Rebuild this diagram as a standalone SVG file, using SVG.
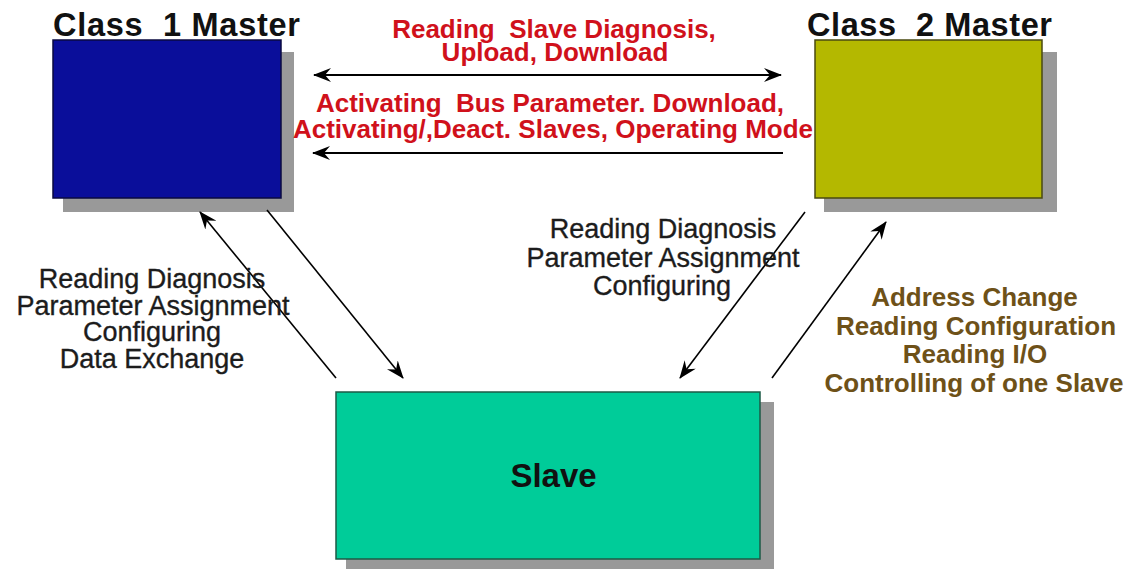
<svg xmlns="http://www.w3.org/2000/svg" width="1132" height="569" viewBox="0 0 1132 569">
  <defs>
    <marker id="head" markerUnits="userSpaceOnUse" markerWidth="20" markerHeight="14" refX="17" refY="7" orient="auto-start-reverse">
      <path d="M0,0 L18,7 L0,14 L6,7 Z" fill="#000"/>
    </marker>
    <style>
      text { white-space: pre; }
      .shadow { fill: #999999; }
      .title { font-family: "Liberation Sans", Arial, sans-serif; font-weight: bold; font-size: 32.5px; fill: #111; }
      .red { font-family: "Liberation Sans", Arial, sans-serif; font-weight: bold; font-size: 26px; fill: #d0111b; text-anchor: middle; }
      .gray { font-family: "Liberation Sans", Arial, sans-serif; font-size: 27px; fill: #1c1c1c; stroke: #1c1c1c; stroke-width: 0.35px; text-anchor: middle; }
      .brown { font-family: "Liberation Sans", Arial, sans-serif; font-weight: bold; font-size: 26px; fill: #6e5118; text-anchor: middle; }
      .conn { stroke: #000; fill: none; }
    </style>
  </defs>
  <rect width="1132" height="569" fill="#ffffff"/>

  <!-- Class 1 Master -->
  <g id="class1-master">
    <rect class="shadow" x="63" y="52" width="231" height="160"/>
    <rect x="53" y="40" width="228" height="158" fill="#0a0e9a" stroke="#0a0a40" stroke-width="1.5"/>
    <text class="title" x="53" y="35.5" xml:space="preserve" textLength="247" lengthAdjust="spacing">Class  1 Master</text>
  </g>

  <!-- Class 2 Master -->
  <g id="class2-master">
    <rect class="shadow" x="824" y="52" width="233" height="160"/>
    <rect x="815" y="40" width="227" height="158" fill="#b4b800" stroke="#4a4a10" stroke-width="1.5"/>
    <text class="title" x="807" y="35.5" xml:space="preserve" textLength="245" lengthAdjust="spacing">Class  2 Master</text>
  </g>

  <!-- Slave -->
  <g id="slave">
    <rect class="shadow" x="346" y="402" width="428" height="170"/>
    <rect x="336" y="392" width="424" height="167" fill="#00cc99" stroke="#1c5a46" stroke-width="1.5"/>
    <text x="553.5" y="487" font-family="Liberation Sans, Arial, sans-serif" font-weight="bold" font-size="33" fill="#111" text-anchor="middle">Slave</text>
  </g>

  <!-- Connectors -->
  <g id="connectors">
    <line class="conn" x1="314" y1="75" x2="781" y2="75" stroke-width="2" marker-start="url(#head)" marker-end="url(#head)"/>
    <line class="conn" x1="783" y1="153" x2="313" y2="153" stroke-width="2" marker-end="url(#head)"/>
    <line class="conn" x1="336" y1="378" x2="200" y2="212" stroke-width="1.6" marker-end="url(#head)"/>
    <line class="conn" x1="267" y1="210" x2="403" y2="378" stroke-width="1.6" marker-end="url(#head)"/>
    <line class="conn" x1="805" y1="212" x2="680" y2="378" stroke-width="1.6" marker-end="url(#head)"/>
    <line class="conn" x1="772" y1="378" x2="886" y2="222" stroke-width="1.6" marker-end="url(#head)"/>
  </g>

  <!-- Labels between the masters -->
  <g id="master-labels">
    <text class="red" x="554" y="38" xml:space="preserve">Reading  Slave Diagnosis,</text>
    <text class="red" x="555" y="61">Upload, Download</text>
    <text class="red" x="550" y="112" xml:space="preserve">Activating  Bus Parameter. Download,</text>
    <text class="red" x="553" y="138">Activating/,Deact. Slaves, Operating Mode</text>
  </g>

  <!-- Class 1 to slave services -->
  <g id="class1-labels">
    <text class="gray" x="152" y="288">Reading Diagnosis</text>
    <text class="gray" x="153" y="314.5">Parameter Assignment</text>
    <text class="gray" x="152" y="341">Configuring</text>
    <text class="gray" x="152" y="368">Data Exchange</text>
  </g>

  <!-- Class 2 to slave services -->
  <g id="class2-labels">
    <text class="gray" x="663" y="238">Reading Diagnosis</text>
    <text class="gray" x="663" y="266.5">Parameter Assignment</text>
    <text class="gray" x="662" y="295">Configuring</text>
  </g>

  <!-- Slave to class 2 services -->
  <g id="slave-labels">
    <text class="brown" x="974.5" y="306">Address Change</text>
    <text class="brown" x="976" y="334.5">Reading Configuration</text>
    <text class="brown" x="975" y="363">Reading I/O</text>
    <text class="brown" x="974" y="391.5">Controlling of one Slave</text>
  </g>
</svg>
